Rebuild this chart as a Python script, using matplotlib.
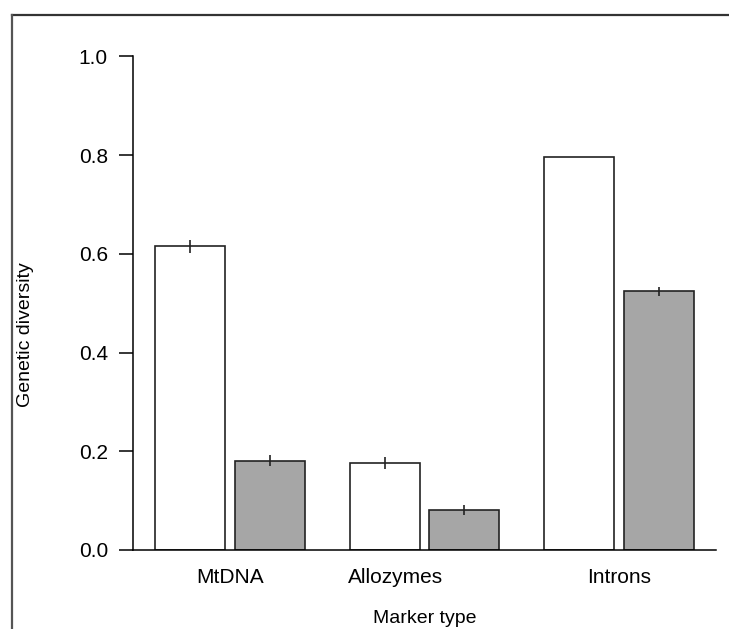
import matplotlib.pyplot as plt
from matplotlib.lines import Line2D
import numpy as np

plt.rcParams['font.family'] = ['Liberation Sans', 'DejaVu Sans']

# data
markers = ['MtDNA', 'Allozymes', 'Introns']
div_white = [0.615, 0.177, 0.797]
err_white = [0.013, 0.012, 0.0]
div_gray = [0.181, 0.081, 0.524]
err_gray = [0.011, 0.010, 0.009]

x = np.arange(len(markers))
label_pos = [0.0, 0.85, 2.0]
w = 0.36
gap = 0.05

fig = plt.figure(figsize=(7.29, 6.29), dpi=100)
ax = fig.add_axes([0.1824, 0.1256, 0.7998, 0.7846])

ax.bar(x - w / 2 - gap / 2, div_white, w, color='white', edgecolor='#222222', linewidth=1.2,
       yerr=err_white, error_kw=dict(ecolor='#222222', elinewidth=1.2, capsize=0))
ax.bar(x + w / 2 + gap / 2, div_gray, w, color='#a6a6a6', edgecolor='#222222', linewidth=1.2,
       yerr=err_gray, error_kw=dict(ecolor='#222222', elinewidth=1.2, capsize=0))

ax.set_xlim(-0.5, 2.5)
ax.set_ylim(0, 1.0)
ax.set_yticks([0.0, 0.2, 0.4, 0.6, 0.8, 1.0])
ax.set_yticklabels(['0.0', '0.2', '0.4', '0.6', '0.8', '1.0'])
ax.set_xticks(label_pos)
ax.set_xticklabels(markers)
ax.tick_params(axis='y', length=10, width=1.1, pad=8, labelsize=15)
ax.tick_params(axis='x', length=0, pad=13, labelsize=15)

ax.spines['top'].set_visible(False)
ax.spines['right'].set_visible(False)
ax.spines['left'].set_linewidth(1.1)
ax.spines['bottom'].set_linewidth(1.1)

ax.set_ylabel('Genetic diversity', fontsize=14)
ax.set_xlabel('Marker type', fontsize=14)
ax.yaxis.set_label_coords(-0.185, 0.436)
ax.xaxis.set_label_coords(0.5, -0.138)
ax.yaxis.label.set_va('center')
ax.xaxis.label.set_va('center')

# outer frame (top and left edges)
fig.add_artist(Line2D([12 / 729, 1.0], [1 - 15 / 629, 1 - 15 / 629], transform=fig.transFigure,
                      color='#333333', linewidth=1.6))
fig.add_artist(Line2D([12 / 729, 12 / 729], [0.0, 1 - 15 / 629], transform=fig.transFigure,
                      color='#555555', linewidth=1.6))

plt.savefig('out.png', dpi=100)
